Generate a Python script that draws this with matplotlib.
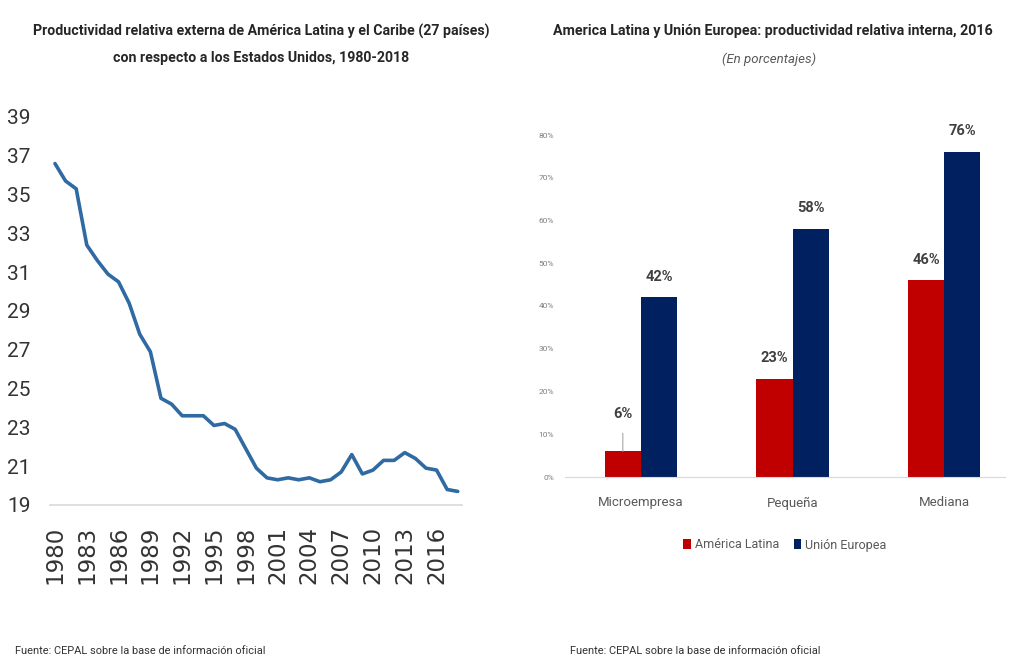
import matplotlib
matplotlib.use("Agg")
import matplotlib.pyplot as plt
import numpy as np

# left chart: productividad relativa externa (annual)
years = list(range(1980, 2019))
productividad = [36.6, 35.7, 35.3, 32.4, 31.6, 30.9, 30.5, 29.4, 27.8, 26.9,
                 24.5, 24.2, 23.6, 23.6, 23.6, 23.1, 23.2, 22.9, 21.9, 20.9,
                 20.4, 20.3, 20.4, 20.3, 20.4, 20.2, 20.3, 20.7, 21.6, 20.6,
                 20.8, 21.3, 21.3, 21.7, 21.4, 20.9, 20.8, 19.8, 19.7]
year_ticks = list(range(1980, 2017, 3))
y_ticks = list(range(19, 40, 2))

# right chart: productividad relativa interna 2016
categorias = ["Microempresa", "Pequeña", "Mediana"]
america_latina = [6, 23, 46]
union_europea = [42, 58, 76]

NARROW = ["Roboto", "DejaVu Sans"]
RED = "#c00000"
NAVY = "#002060"
LINE = "#2f6aa2"

fig = plt.figure(figsize=(10.12, 6.59), dpi=100)

# ---- left chart
ax1 = fig.add_axes([50 / 1012, 1 - 505 / 659, 412 / 1012, 388 / 659])
ax1.plot(years, productividad, color=LINE, lw=2.6, solid_capstyle="round",
         solid_joinstyle="round")
ax1.set_xlim(1979.53, 2018.4)
ax1.set_ylim(19, 39)
ax1.set_yticks(y_ticks)
ax1.set_yticklabels([str(v) for v in y_ticks], family=NARROW, fontsize=15, color="#333333")
ax1.set_xticks(year_ticks)
ax1.set_xticklabels([str(v) for v in year_ticks], rotation=90, fontsize=16.5,
                    color="#333333", va="top")
ax1.tick_params(axis="y", length=0, pad=14)
ax1.tick_params(axis="x", length=0, pad=15)
for s in ["left", "right", "top"]:
    ax1.spines[s].set_visible(False)
ax1.spines["bottom"].set_color("#d9d9d9")
ax1.spines["bottom"].set_linewidth(1.2)

fig.text(261 / 1012, 1 - 31 / 659,
         "Productividad relativa externa de América Latina y el Caribe (27 países)",
         ha="center", va="center", family=NARROW, fontsize=10.2, weight="bold", color="#262626")
fig.text(261 / 1012, 1 - 58 / 659, "con respecto a los Estados Unidos, 1980-2018",
         ha="center", va="center", family=NARROW, fontsize=10.2, weight="bold", color="#262626")

# ---- right chart
ax2 = fig.add_axes([565 / 1012, 1 - 477 / 659, 440 / 1012, 342 / 659])
x = np.arange(len(categorias))
w = 0.238
b1 = ax2.bar(x - w / 2, america_latina, w, color=RED, label="América Latina")
b2 = ax2.bar(x + w / 2, union_europea, w, color=NAVY, label="Unión Europea")
ax2.set_xlim(-0.5, 2.4)
ax2.set_ylim(0, 80)
ax2.set_yticks(range(0, 81, 10))
ax2.set_yticklabels([f"{v}%" for v in range(0, 81, 10)], family=NARROW,
                    fontsize=6, color="#7f7f7f")
ax2.set_xticks(x)
ax2.set_xticklabels(categorias, family=NARROW, fontsize=9.5, color="#595959")
ax2.tick_params(axis="y", length=0, pad=8)
ax2.tick_params(axis="x", length=0, pad=14)
for s in ["left", "right", "top"]:
    ax2.spines[s].set_visible(False)
ax2.spines["bottom"].set_color("#d9d9d9")

label_kw = dict(textcoords="offset points", ha="center", va="center",
                family=NARROW, fontsize=10.5, weight="bold", color="#404040",
                annotation_clip=False)
for i, v in enumerate(america_latina):
    if v < 10:
        ax2.annotate(f"{v}%", xy=(x[i] - w / 2, v), xytext=(0, 27),
                     arrowprops=dict(arrowstyle="-", color="#a6a6a6", lw=0.8,
                                     shrinkA=7, shrinkB=0), **label_kw)
    else:
        ax2.annotate(f"{v}%", xy=(x[i] - w / 2, v), xytext=(0, 15), **label_kw)
for i, v in enumerate(union_europea):
    ax2.annotate(f"{v}%", xy=(x[i] + w / 2, v), xytext=(0, 15), **label_kw)

leg = fig.legend(handles=[b1, b2], loc="center", bbox_to_anchor=(785 / 1012, 1 - 545 / 659),
                 ncol=2, frameon=False, handlelength=0.6, handleheight=0.9,
                 handletextpad=0.3, columnspacing=1.2,
                 prop={"family": NARROW, "size": 9})
for t in leg.get_texts():
    t.set_color("#595959")

fig.text(773 / 1012, 1 - 31 / 659,
         "America Latina y Unión Europea: productividad relativa interna, 2016",
         ha="center", va="center", family=NARROW, fontsize=10.3, weight="bold", color="#262626")
fig.text(769 / 1012, 1 - 59 / 659, "(En porcentajes)", ha="center", va="center",
         family=NARROW, fontsize=9.5, style="italic", color="#595959")

fig.text(15 / 1012, 1 - 651 / 659, "Fuente: CEPAL sobre la base de información oficial",
         ha="left", va="center", family=NARROW, fontsize=7.9, color="#333333")
fig.text(570 / 1012, 1 - 651 / 659, "Fuente: CEPAL sobre la base de información oficial",
         ha="left", va="center", family=NARROW, fontsize=7.9, color="#333333")

fig.savefig("out.png", dpi=100)
